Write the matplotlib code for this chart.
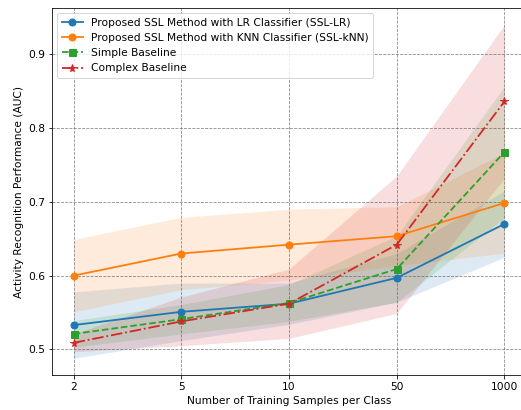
import numpy as np
import matplotlib
matplotlib.use('Agg')
import matplotlib.pyplot as plt

plt.rcParams['font.size'] = 10.6

# samples per class (plotted as evenly spaced categories)
sampleLabels = ['2', '5', '10', '50', '1000']

# mean AUC per method
sslLR = [0.533, 0.551, 0.562, 0.597, 0.670]
sslKNN = [0.600, 0.630, 0.642, 0.6535, 0.6985]
simpleBase = [0.521, 0.541, 0.563, 0.609, 0.7675]
complexBase = [0.509, 0.538, 0.562, 0.642, 0.836]

# spread (std) per method
sslLRStd = [0.045, 0.039, 0.028, 0.033, 0.045]
sslKNNStd = [0.049, 0.049, 0.048, 0.040, 0.068]
simpleStd = [0.018, 0.020, 0.025, 0.045, 0.089]
complexStd = [0.012, 0.033, 0.047, 0.093, 0.104]

def main():
    fig = plt.figure(figsize=(521/72, 410/72), dpi=72)
    ax = fig.add_axes([52/521, 35/410, 474/521, 367/410])

    x = np.arange(len(sampleLabels))
    series = [
        (sslLR, sslLRStd, 'Proposed SSL Method with LR Classifier (SSL-LR)', 'tab:blue', '-', 'o', 7),
        (sslKNN, sslKNNStd, 'Proposed SSL Method with KNN Classifier (SSL-kNN)', 'tab:orange', '-', 'o', 7),
        (simpleBase, simpleStd, 'Simple Baseline', 'tab:green', '--', 's', 7),
        (complexBase, complexStd, 'Complex Baseline', 'tab:red', '-.', '*', 8),
    ]
    for mean, std, label, color, ls, marker, ms in series:
        mean = np.array(mean)
        std = np.array(std)
        ax.plot(x, mean, linestyle=ls, marker=marker, color=color, label=label,
                linewidth=1.8, markersize=ms)
        ax.fill_between(x, mean - std, mean + std, color=color, alpha=0.15, linewidth=0)

    ax.set_xticks(x)
    ax.set_xticklabels(sampleLabels)
    ax.set_xlabel('Number of Training Samples per Class')
    ax.set_ylabel('Activity Recognition Performance (AUC)')
    ax.grid(True, linestyle='--', color='#555555', alpha=0.7)
    ax.legend(loc='upper left')

    fig.savefig('out.png', dpi=72)

if __name__ == '__main__':
    main()
